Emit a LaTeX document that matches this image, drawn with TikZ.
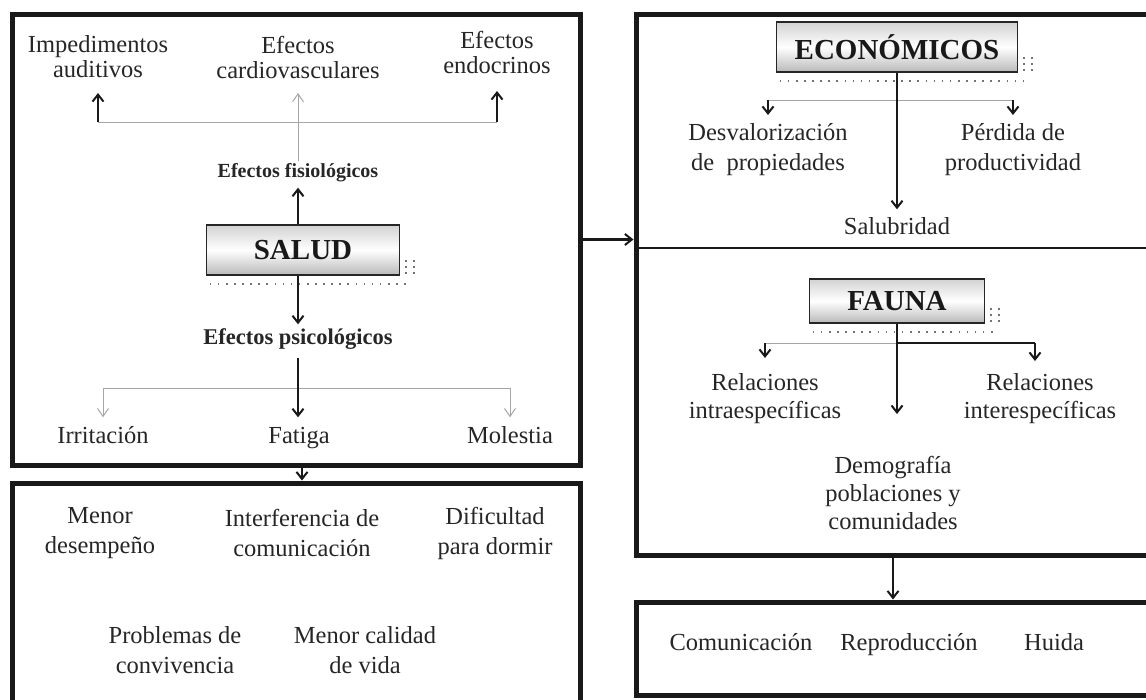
\documentclass[tikz,border=0pt]{standalone}
\usepackage{fontspec}
\setmainfont{Liberation Serif}
\usetikzlibrary{arrows.meta}
\begin{document}
\begin{tikzpicture}[x=1pt,y=-1pt,
  txt/.style={font=\fontsize{24.5}{28}\selectfont, align=center, inner sep=0pt, text=black!85},
  one/.style={text height=17pt, text depth=6pt},
  lbl/.style={font=\fontsize{20}{24}\selectfont\bfseries, inner sep=0pt, text=black!85,
    text height=14pt, text depth=5pt},
  title/.style={font=\fontsize{29}{32}\selectfont\bfseries, inner sep=0pt, text=black!90,
    draw=black!85, line width=1.6pt, top color=gray!35, bottom color=gray!55, middle color=white},
  frame/.style={draw=black!90, line width=5pt, inner sep=0pt},
  thinline/.style={draw=gray!70, line width=1pt},
  thickline/.style={draw=black!90, line width=2.6pt},
  tipA/.style={-{Straight Barb[length=7pt,width=11pt,line width=2pt]}},
  tipB/.style={-{Straight Barb[length=8pt,width=11pt,line width=1pt]}},
  shadowdots/.style={draw=black!55, line width=1.6pt, dash pattern=on 1.6pt off 6.5pt}
]
\useasboundingbox (0,0) rectangle (1146,699);

% ---------- frames ----------
\node[frame, minimum width=568pt, minimum height=451pt] (boxA) at (296,239.5) {};
\node[frame, minimum width=568pt, minimum height=240pt] (boxB) at (296,603) {};
\node[frame, minimum width=514pt, minimum height=541pt] (boxR) at (893,284.5) {};
\node[frame, minimum width=514pt, minimum height=93pt] (boxS) at (893,648.5) {};
\coordinate (divL) at (636,248);
\draw[black!90, line width=2.5pt] (divL) -- (divL -| boxR.east);

% ---------- left panel: health ----------
\node[title, minimum width=193pt, minimum height=50pt] (salud) at (303,250) {SALUD};
\node[lbl] (fisio) at (298,173) {Efectos fisiológicos};
\node[lbl, font=\fontsize{22.5}{26}\selectfont\bfseries] (psico) at (298,340) {Efectos psicológicos};

\node[txt, font=\fontsize{24.5}{25}\selectfont] (audit) at (98,57) {Impedimentos\\auditivos};
\node[txt, font=\fontsize{24.5}{25}\selectfont] (cardio) at (298,57) {Efectos\\cardiovasculares};
\node[txt, font=\fontsize{24.5}{25}\selectfont] (endo) at (497,52) {Efectos\\endocrinos};

\coordinate (hL) at (98,122);
\coordinate (hR) at (497,122);
\draw[thinline] (hL) -- (hR);
\draw[thinline, tipB] ([yshift=2pt]fisio.north) -- (298,93);
\draw[thickline, tipA] (hL) -- (98,93);
\draw[thickline, tipA] (hR) -- (497,91);
\draw[thickline, tipA] (salud.north -| fisio) -- ([yshift=-5pt]fisio.south);

\node[txt, one] (irr) at (103,438) {Irritación};
\node[txt, one] (fat) at (299,438) {Fatiga};
\node[txt, one] (mol) at (510,438) {Molestia};

\draw[thickline, tipA] (salud.south -| psico) -- ([yshift=6pt]psico.north);
\coordinate (pL) at (103,388);
\coordinate (pR) at (510,388);
\draw[thinline] (pL) -- (pR);
\draw[thinline, tipB] (pL) -- ([yshift=9pt]irr.north);
\draw[thinline, tipB] (pR) -- ([yshift=9pt]mol.north);
\draw[thickline, tipA] ([yshift=-8pt]psico.south) -- ([yshift=9pt]fat.north -| psico);

% ---------- lower left panel ----------
\node[txt, font=\fontsize{24.5}{30}\selectfont] (men) at (100,533) {Menor\\desempeño};
\node[txt, font=\fontsize{24.5}{30}\selectfont] (inter) at (302,533) {Interferencia de\\comunicación};
\node[txt, font=\fontsize{24.5}{30}\selectfont] (dif) at (495,533) {Dificultad\\para dormir};
\node[txt, font=\fontsize{24.5}{30}\selectfont] (prob) at (175,650) {Problemas de\\convivencia};
\node[txt, font=\fontsize{24.5}{30}\selectfont] (cal) at (365,650) {Menor calidad\\de vida};

\draw[thickline, tipA] (boxA.south -| inter) -- (boxB.north -| inter);

% ---------- right panel: economy ----------
\node[title, minimum width=241pt, minimum height=50pt] (eco) at (897,47) {ECONÓMICOS};
\node[txt, font=\fontsize{24.5}{30}\selectfont] (desv) at (768,150) {Desvalorización\\de \ propiedades};
\node[txt, font=\fontsize{24.5}{30}\selectfont] (perd) at (1013,150) {Pérdida de\\productividad};
\node[txt, one] (salub) at (897,229) {Salubridad};
\coordinate (eL) at (768,100);
\coordinate (eR) at (1013,100);
\draw[thinline] (eL) -- (eR);
\draw[thickline, line width=1.6pt, tipA] (eL) -- (768,115);
\draw[thickline, line width=1.6pt, tipA] (eR) -- (1013,115);
\draw[thickline, tipA] (eco.south) -- ([yshift=8pt]salub.north);

% ---------- right panel: fauna ----------
\node[title, minimum width=175pt, minimum height=44pt] (fauna) at (897,301) {FAUNA};
\node[txt] (intra) at (765,399) {Relaciones\\intraespecíficas};
\node[txt] (interesp) at (1040,399) {Relaciones\\interespecíficas};
\node[txt] (demo) at (893,493) {Demografía\\poblaciones y\\comunidades};
\coordinate (fL) at (765,343);
\coordinate (fM) at (897,343);
\coordinate (fR) at (1035,343);
\draw[thinline] (fL) -- (fM);
\draw[thickline, line width=2.2pt] (fM) -- (fR);
\draw[thickline, line width=1.6pt, tipA] (fL) -- (765,358);
\draw[thickline, tipA] (fR) -- (1035,361);
\draw[thickline, tipA] (fauna.south) -- ([yshift=42pt]demo.north -| fauna);

% ---------- lower right panel ----------
\node[txt, one] (com) at (741,645) {Comunicación};
\node[txt, one] (rep) at (909,645) {Reproducción};
\node[txt, one] (hui) at (1054,645) {Huida};
\draw[thickline, tipA] (boxR.south) -- (boxS.north);

\draw[thickline, tipA] (boxA.east) -- (boxA.east -| boxR.west);

% ---------- dotted drop shadows of the title boxes ----------
\foreach \b in {salud,eco,fauna}{
  \draw[shadowdots] ([shift={(4,8)}]\b.south west) -- ([shift={(8,8)}]\b.south east);
  \draw[shadowdots] ([shift={(5,-15)}]\b.south east) -- ([shift={(16,-15)}]\b.south east);
  \draw[shadowdots] ([shift={(5,-9)}]\b.south east) -- ([shift={(16,-9)}]\b.south east);
  \draw[shadowdots] ([shift={(5,-3)}]\b.south east) -- ([shift={(16,-3)}]\b.south east);
}
\end{tikzpicture}
\end{document}
